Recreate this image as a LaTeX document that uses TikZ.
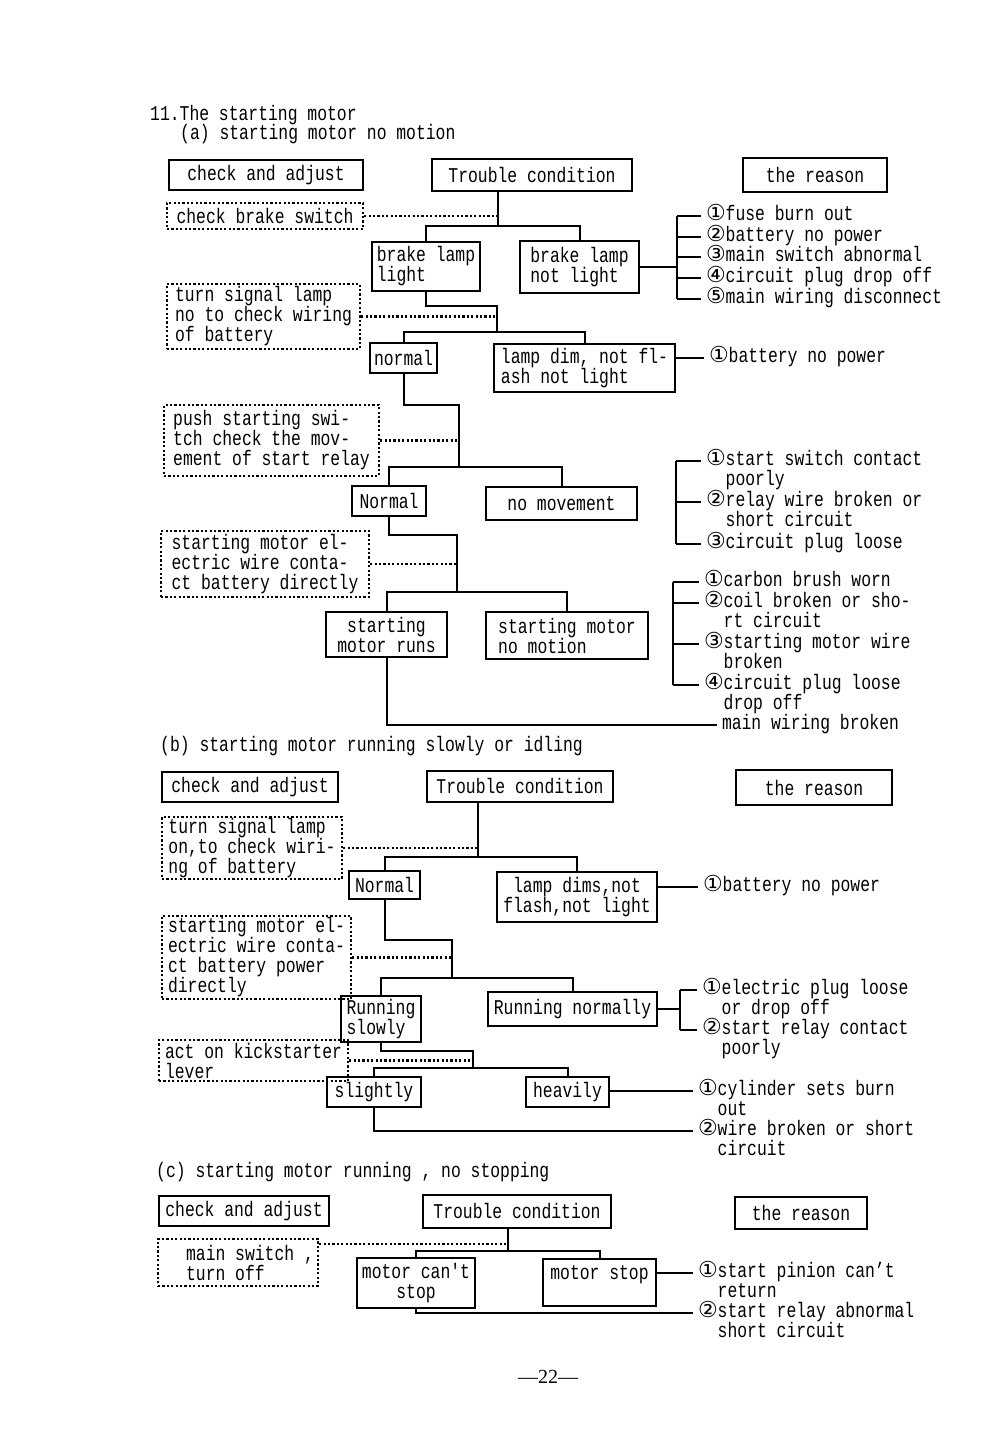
\documentclass[tikz,border=0pt]{standalone}
\usepackage{fontspec}
\newfontfamily\tw[FakeStretch=0.78]{Liberation Mono}
\newfontfamily\cirf{DejaVu Sans}
\newfontfamily\pnf{Liberation Serif}
\newcommand{\cnum}[1]{{\cirf\fontsize{22}{20}\selectfont #1}}
\newcommand{\cph}{\phantom{\cnum{①}}}
\tikzset{
  txt/.style={font=\tw\fontsize{21}{20}\selectfont, inner sep=0pt},
  box/.style={txt, draw, line width=2pt, align=center},
  dbox/.style={txt, draw, line width=2.2pt, dash pattern=on 2.2pt off 2.2pt, align=left},
  ln/.style={line width=2pt},
  dln/.style={line width=2.2pt, dash pattern=on 2.2pt off 2.2pt},
  rs/.style={txt, anchor=west, outer xsep=5pt, text height=12pt, text depth=3pt},
}
\begin{document}
\begin{tikzpicture}[x=1pt,y=-1pt]
\fill[white] (0,0) rectangle (1000,1447);
\useasboundingbox (0,0) rectangle (1000,1447);

% headings
\node[txt, anchor=west] (h1) at (150,115) {11.The starting motor};
\node[txt, anchor=west] (h2) at (180,134) {(a) starting motor no motion};
\node[txt, anchor=west] (hb) at (160,746) {(b) starting motor running slowly or idling};
\node[txt, anchor=west] (hc) at (156,1172) {(c) starting motor running , no stopping};
\node[font=\pnf\fontsize{20}{20}\selectfont, inner sep=0pt] (pg) at (548,1377) {—22—};

% ---------------- section (a)
\node[box, minimum width=194, minimum height=30] (ca1) at (266,175) {check and adjust};
\node[box, minimum width=200, minimum height=32] (tc1) at (532,175) {Trouble condition};
\node[box, minimum width=144, minimum height=34] (re1) at (815,175) {the reason};
\node[dbox, minimum width=196, minimum height=26] (cb1) at (265,216) {check brake switch};
\node[box, align=left, minimum width=108, minimum height=49] (bll) at (426,266.5) {brake lamp\\light};
\node[box, align=left, minimum width=119, minimum height=52] (blnl) at (579.5,267) {brake lamp\\not light};
\node[dbox, minimum width=193, minimum height=65] (tsl1) at (263.5,316.5) {turn signal lamp\\no to check wiring\\of battery};
\node[box, minimum width=67, minimum height=30] (nor1) at (403.5,358) {normal};
\node[box, align=left, minimum width=181, minimum height=48] (ldim) at (584.5,368) {lamp dim, not fl-\\ash not light};
\node[dbox, minimum width=215, minimum height=71] (psb) at (271.5,440.5) {push starting swi-\\tch check the mov-\\ement of start relay};
\node[box, minimum width=74, minimum height=30] (nor2) at (389,501) {Normal};
\node[box, minimum width=151, minimum height=33] (nomv) at (561.5,503.5) {no movement};
\node[dbox, minimum width=208, minimum height=66] (sme1) at (265,564) {starting motor el-\\ectric wire conta-\\ct battery directly};
\node[box, minimum width=121, minimum height=45] (smr) at (386.5,634.5) {starting\\motor runs};
\node[box, align=left, minimum width=162, minimum height=47] (smnm) at (567,635.5) {starting motor\\no motion};

\node[rs] (r1a) at (701,216) {\cnum{①}fuse burn out};
\node[rs] (r1b) at (701,237) {\cnum{②}battery no power};
\node[rs] (r1c) at (701,257) {\cnum{③}main switch abnormal};
\node[rs] (r1d) at (701,278) {\cnum{④}circuit plug drop off};
\node[rs] (r1e) at (701,299) {\cnum{⑤}main wiring disconnect};
\node[rs] (r2a) at (704,358) {\cnum{①}battery no power};
\node[rs] (r3a) at (701,461) {\cnum{①}start switch contact};
\node[rs] (r3a2) at (701,481) {\cph poorly};
\node[rs] (r3b) at (701,502) {\cnum{②}relay wire broken or};
\node[rs] (r3b2) at (701,522) {\cph short circuit};
\node[rs] (r3c) at (701,544) {\cnum{③}circuit plug loose};
\node[rs] (r4a) at (699,582) {\cnum{①}carbon brush worn};
\node[rs] (r4b) at (699,603) {\cnum{②}coil broken or sho-};
\node[rs] (r4b2) at (699,623) {\cph rt circuit};
\node[rs] (r4c) at (699,644) {\cnum{③}starting motor wire};
\node[rs] (r4c2) at (699,664) {\cph broken};
\node[rs] (r4d) at (699,685) {\cnum{④}circuit plug loose};
\node[rs] (r4d2) at (699,705) {\cph drop off};
\node[rs] (r4e) at (717,725) {main wiring broken};

\coordinate (j1) at (498,226);
\draw[ln] (tc1.south -| j1) -- (j1);
\draw[ln] (bll.north) |- (j1) -| (blnl.north);
\draw[dln] (cb1.east) -- (cb1.east -| j1);
\coordinate (b1t) at (677,216);
\coordinate (b1b) at (677,299);
\draw[ln] (blnl.east) -- (blnl.east -| b1t);
\draw[ln] (b1t) -- (b1b);
\foreach \n in {r1a,r1b,r1c,r1d,r1e} \draw[ln] (\n.west -| b1t) -- (\n.west);

\coordinate (k2) at (497,306);
\coordinate (j2) at (497,332);
\draw[ln] (bll.south) |- (k2) -- (j2);
\draw[dln] (tsl1.east) -- (tsl1.east -| j2);
\draw[ln] (nor1.north) |- (j2) -| (ldim.north);
\draw[ln] (ldim.east |- r2a.west) -- (r2a.west);

\coordinate (k3) at (459,405);
\coordinate (j3) at (459,467);
\draw[ln] (nor1.south) |- (k3) -- (j3);
\draw[dln] (psb.east) -- (psb.east -| j3);
\draw[ln] (nor2.north) |- (j3) -| (nomv.north);
\coordinate (b2t) at (676,461);
\coordinate (b2b) at (676,544);
\draw[ln] (b2t) -- (b2b);
\foreach \n in {r3a,r3b,r3c} \draw[ln] (\n.west -| b2t) -- (\n.west);

\coordinate (k4) at (457,535);
\coordinate (j4) at (457,592);
\draw[ln] (nor2.south) |- (k4) -- (j4);
\draw[dln] (sme1.east) -- (sme1.east -| j4);
\draw[ln] (smr.north) |- (j4) -| (smnm.north);
\coordinate (b3t) at (673,582);
\coordinate (b3b) at (673,685);
\draw[ln] (b3t) -- (b3b);
\foreach \n in {r4a,r4b,r4c,r4d} \draw[ln] (\n.west -| b3t) -- (\n.west);
\draw[ln] (smr.south) |- (r4e.west);

% ---------------- section (b)
\node[box, minimum width=176, minimum height=30] (ca2) at (250,787) {check and adjust};
\node[box, minimum width=186, minimum height=31] (tc2) at (520,786.5) {Trouble condition};
\node[box, minimum width=156, minimum height=35] (re2) at (814,787.5) {the reason};
\node[dbox, minimum width=180, minimum height=62] (tsl2) at (252,848) {turn signal lamp\\on,to check wiri-\\ng of battery};
\node[box, minimum width=71, minimum height=28] (nor3) at (384.5,885) {Normal};
\node[box, minimum width=160, minimum height=50] (ldims) at (577,897) {lamp dims,not\\flash,not light};
\node[dbox, minimum width=189, minimum height=83] (sme2) at (256.5,957.5) {starting motor el-\\ectric wire conta-\\ct battery power\\directly};
\node[box, align=left, minimum width=80, minimum height=46] (rsl) at (381,1019) {Running\\slowly};
\node[box, minimum width=169, minimum height=34] (rnm) at (572.5,1009) {Running normally};
\node[dbox, minimum width=189, minimum height=41] (act) at (253.5,1060.5) {act on kickstarter\\lever};
\node[box, minimum width=94, minimum height=30] (sl) at (374,1092) {slightly};
\node[box, minimum width=83, minimum height=30] (hv) at (567.5,1092) {heavily};

\node[rs] (r6a) at (698,887) {\cnum{①}battery no power};
\node[rs] (r7a) at (697,990) {\cnum{①}electric plug loose};
\node[rs] (r7a2) at (697,1010) {\cph or drop off};
\node[rs] (r7b) at (697,1030) {\cnum{②}start relay contact};
\node[rs] (r7b2) at (697,1050) {\cph poorly};
\node[rs] (r8a) at (693,1091) {\cnum{①}cylinder sets burn};
\node[rs] (r8a2) at (693,1111) {\cph out};
\node[rs] (r8b) at (693,1131) {\cnum{②}wire broken or short};
\node[rs] (r8b2) at (693,1151) {\cph circuit};

\coordinate (j5) at (478,857);
\draw[ln] (tc2.south -| j5) -- (j5);
\draw[dln] (tsl2.east) -- (tsl2.east -| j5);
\draw[ln] (nor3.north) |- (j5) -| (ldims.north);
\draw[ln] (ldims.east |- r6a.west) -- (r6a.west);
\coordinate (k6) at (452,940);
\coordinate (j6) at (452,978);
\draw[ln] (nor3.south) |- (k6) -- (j6);
\draw[dln] (sme2.east) -- (sme2.east -| j6);
\draw[ln] (rsl.north) |- (j6) -| (rnm.north);
\coordinate (b4t) at (680,990);
\coordinate (b4b) at (680,1030);
\draw[ln] (rnm.east) -- (rnm.east -| b4t);
\draw[ln] (b4t) -- (b4b);
\foreach \n in {r7a,r7b} \draw[ln] (\n.west -| b4t) -- (\n.west);
\coordinate (k7) at (473,1051);
\coordinate (j7) at (473,1068);
\draw[ln] (rsl.south) |- (k7) -- (j7);
\draw[dln] (act.east) -- (act.east -| j7);
\draw[ln] (sl.north) |- (j7) -| (hv.north);
\draw[ln] (hv.east |- r8a.west) -- (r8a.west);
\draw[ln] (sl.south) |- (r8b.west);

% ---------------- section (c)
\node[box, minimum width=170, minimum height=30] (ca3) at (244,1211) {check and adjust};
\node[box, minimum width=188, minimum height=33] (tc3) at (517,1211.5) {Trouble condition};
\node[box, minimum width=132, minimum height=32] (re3) at (801,1213) {the reason};
\node[dbox, minimum width=160, minimum height=47] (ms) at (238,1262.5) {\hspace*{24pt}main switch ,\\\hspace*{24pt}turn off};
\node[box, minimum width=118, minimum height=50] (mcs) at (416,1283) {motor can't\\stop};
\node[box, minimum width=113, minimum height=47] (mstp) at (599.5,1282.5) {motor stop\\\mbox{}};

\node[rs] (r9a) at (693,1273) {\cnum{①}start pinion can’t};
\node[rs] (r9a2) at (693,1293) {\cph return};
\node[rs] (r9b) at (693,1313) {\cnum{②}start relay abnormal};
\node[rs] (r9b2) at (693,1333) {\cph short circuit};

\coordinate (j8) at (508,1251);
\coordinate (msd) at ([yshift=-6pt]ms.north east);
\draw[ln] (tc3.south -| j8) -- (j8);
\draw[dln] (msd) -- (msd -| j8);
\draw[ln] (mcs.north) |- (j8) -| (mstp.north);
\draw[ln] (mstp.east |- r9a.west) -- (r9a.west);
\draw[ln] (mcs.south) |- (r9b.west);
\end{tikzpicture}
\end{document}
